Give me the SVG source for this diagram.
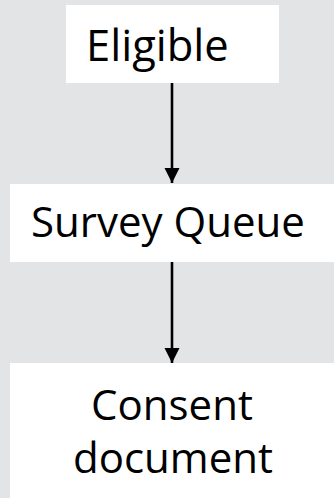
<svg xmlns="http://www.w3.org/2000/svg" width="334" height="498" viewBox="0 0 334 498">
<style>
.box{fill:#ffffff}
.lbl{font-family:"Open Sans","Liberation Sans",sans-serif;font-size:42px;fill:#000000}
.conn{stroke:#000000;stroke-width:2.6;fill:none}
</style>
<defs>
<marker id="ah" markerUnits="userSpaceOnUse" markerWidth="16" markerHeight="16" refX="15" refY="7.5" orient="auto">
<path d="M0,0 L15,7.5 L0,15 Z" fill="#000000"/>
</marker>
</defs>
<rect width="334" height="498" fill="#e3e4e5"/>
<g id="connectors">
<line class="conn" x1="172" y1="82" x2="172" y2="183" marker-end="url(#ah)"/>
<line class="conn" x1="172" y1="261" x2="172" y2="363" marker-end="url(#ah)"/>
</g>
<g id="eligible">
<rect class="box" x="66" y="5" width="213" height="78"/>
<text class="lbl" x="86" y="61" style="font-size:43.5px">Eligible</text>
</g>
<g id="survey-queue">
<rect class="box" x="10" y="184" width="324" height="78"/>
<text class="lbl" x="31" y="237">Survey Queue</text>
</g>
<g id="consent-document">
<rect class="box" x="10" y="363" width="324" height="135"/>
<text class="lbl" x="172" y="420" text-anchor="middle">Consent</text>
<text class="lbl" x="173" y="473" text-anchor="middle">document</text>
</g>
</svg>
